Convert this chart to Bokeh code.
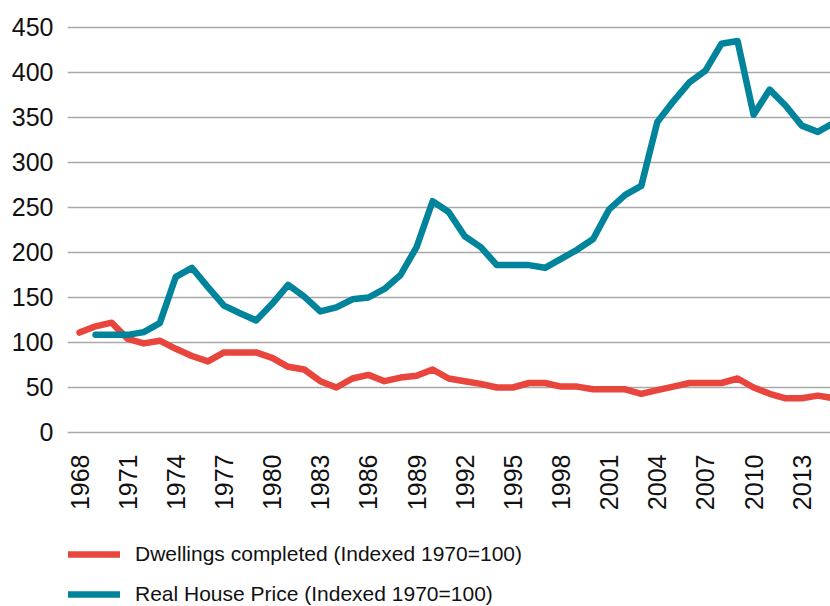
from bokeh.plotting import figure
from bokeh.layouts import column
from bokeh.models import Range1d, FixedTicker, Legend, LegendItem
from bokeh.embed import file_html
from bokeh.resources import INLINE
from math import pi

# Annual series, index values
years = list(range(1968, 2016))
dwellings = [111, 118, 122, 104, 99, 102, 93, 85, 79, 89,
             89, 89, 83, 73, 70, 57, 50, 60, 64, 57,
             61, 63, 70, 60, 57, 54, 50, 50, 55, 55,
             51, 51, 48, 48, 48, 43, 47, 51, 55, 55,
             55, 60, 50, 43, 38, 38, 41, 38]

price_years = list(range(1969, 2016))
house_price = [108.5, 108.5, 108.5, 111.5, 121.5, 173, 183, 161.5, 141,
               132.5, 124.5, 143, 164, 151, 134.5, 139, 148, 150, 159.5,
               175, 206, 257, 245, 218, 206, 186, 186, 186, 183,
               193, 203, 215, 248, 264, 274, 345, 368, 389, 402,
               432, 435, 353, 381, 363, 341, 334, 344]

x_ticks = list(range(1968, 2014, 3))
y_ticks = list(range(0, 451, 50))

series_names = ["Dwellings completed (Indexed 1970=100)",
                "Real House Price (Indexed 1970=100)"]
series_colors = ["#E8453C", "#00849B"]

FONT = "Liberation Sans"
LINE_W = 6.5

# ---- main chart ----
p = figure(width=830, height=530, output_backend="svg", toolbar_location=None,
           x_range=Range1d(1967.25, 2014.79), y_range=Range1d(-8.89, 460),
           min_border_left=67, min_border_right=0, min_border_top=18,
           min_border_bottom=90)
p.title.visible = False
p.outline_line_color = None
p.background_fill_color = "white"
p.border_fill_color = "white"

p.line(years, dwellings, line_color=series_colors[0], line_width=LINE_W,
       line_cap="round", line_join="round")
p.line(price_years, house_price, line_color=series_colors[1], line_width=LINE_W,
       line_cap="round", line_join="round")

# horizontal gridlines only
p.xgrid.grid_line_color = None
p.ygrid.grid_line_color = "#A9A9A9"
p.ygrid.grid_line_width = 1.5
p.ygrid.ticker = FixedTicker(ticks=y_ticks)

p.yaxis.ticker = FixedTicker(ticks=y_ticks)
p.xaxis.ticker = FixedTicker(ticks=x_ticks)
for ax in (p.xaxis[0], p.yaxis[0]):
    ax.axis_line_color = None
    ax.major_tick_line_color = None
    ax.minor_tick_line_color = None
    ax.major_tick_in = 0
    ax.major_tick_out = 0
    ax.minor_tick_out = 0
    ax.major_label_text_font = FONT
    ax.major_label_text_font_size = "25px"
    ax.major_label_text_color = "#111111"
p.yaxis.major_label_standoff = 14
p.xaxis.major_label_standoff = 14
p.xaxis.major_label_orientation = pi / 2

# ---- legend strip underneath ----
q = figure(width=830, height=76, output_backend="svg", toolbar_location=None,
           x_axis_type=None, y_axis_type=None,
           x_range=Range1d(0, 1), y_range=Range1d(0, 1),
           min_border_left=0, min_border_right=0, min_border_top=0,
           min_border_bottom=0)
q.title.visible = False
q.outline_line_color = None
q.xgrid.grid_line_color = None
q.ygrid.grid_line_color = None

# key lines sit outside the strip's visible range; only their legend swatches show
key_renderers = [q.line([5, 6], [5, 6], line_color=c, line_width=LINE_W,
                        line_cap="round")
                 for c in series_colors]

legend = Legend(items=[LegendItem(label=n, renderers=[r])
                       for n, r in zip(series_names, key_renderers)],
                location=(1, 0), orientation="vertical",
                glyph_width=52, glyph_height=18, label_height=18,
                label_standoff=15, spacing=16, padding=0, margin=0,
                label_text_font=FONT, label_text_font_size="21px",
                label_text_color="#111111",
                background_fill_alpha=0, border_line_color=None)
q.add_layout(legend, "center")

layout = column(p, q, spacing=0)
open("out.html", "w").write(file_html(layout, INLINE))
